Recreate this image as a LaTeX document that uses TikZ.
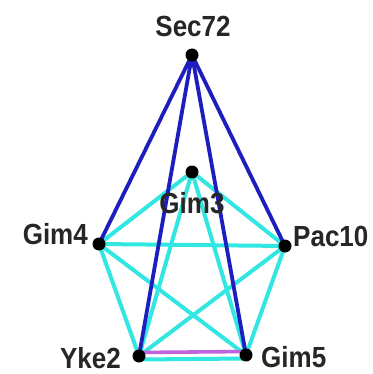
\documentclass[tikz,border=0pt]{standalone}
\usepackage{fontspec}
\setmainfont{Liberation Sans}
\definecolor{eblue}{RGB}{30,30,190}
\definecolor{ecyan}{RGB}{50,230,225}
\definecolor{eviolet}{RGB}{190,100,220}
\newcommand{\tallt}[1]{\scalebox{1}[1.12]{#1}}
\begin{document}
\begin{tikzpicture}[x=1pt,y=-1pt,
  vert/.style={circle,fill=black,inner sep=0pt,minimum size=13pt},
  lab/.style={font=\fontsize{26}{26}\bfseries\selectfont,text=black!85,inner sep=0pt},
  cy/.style={draw=ecyan,line width=4pt},
  bl/.style={draw=eblue,line width=3.8pt}]
\useasboundingbox (0,0) rectangle (372,374);
\fill[white] (0,0) rectangle (372,374);
\coordinate (S) at (192,55);
\coordinate (G3) at (192,172);
\coordinate (G4) at (99,244);
\coordinate (P) at (285,246);
\coordinate (Y) at (139,356);
\coordinate (G5) at (246,355);
% cyan edges
\draw[cy] (G4) -- (P);
\draw[cy] (G4) -- (G3);
\draw[cy] (G3) -- (P);
\draw[cy] (G4) -- (Y);
\draw[cy] (G4) -- (G5);
\draw[cy] (P) -- (Y);
\draw[cy] (P) -- (G5);
\draw[cy] (G3) -- (Y);
\draw[cy] (G3) -- (G5);
\draw[cy] ([yshift=-3.5pt]Y) -- ([yshift=-3.5pt]G5);
\draw[draw=eviolet,line width=3.6pt] ([yshift=3.5pt]Y) -- ([yshift=3.5pt]G5);
% blue edges
\draw[bl] (S) -- (G4);
\draw[bl] (S) -- (Y);
\draw[bl] (S) -- (G5);
\draw[bl] (S) -- (P);
% vertices
\node[vert] (nS) at (S) {};
\node[vert] (nG3) at (G3) {};
\node[vert] (nG4) at (G4) {};
\node[vert] (nP) at (P) {};
\node[vert] (nY) at (Y) {};
\node[vert] (nG5) at (G5) {};
% labels
\node[lab] (tS) at (193,26) {\tallt{Sec72}};
\node[lab] (tG3) at (192,203) {\tallt{Gim3}};
\node[lab,anchor=east] (tG4) at (88,234) {\tallt{Gim4}};
\node[lab,anchor=west] (tP) at (293,236) {\tallt{Pac10}};
\node[lab,anchor=east] (tY) at (121,358) {\tallt{Yke2}};
\node[lab,anchor=west] (tG5) at (261,357) {\tallt{Gim5}};
\end{tikzpicture}
\end{document}
